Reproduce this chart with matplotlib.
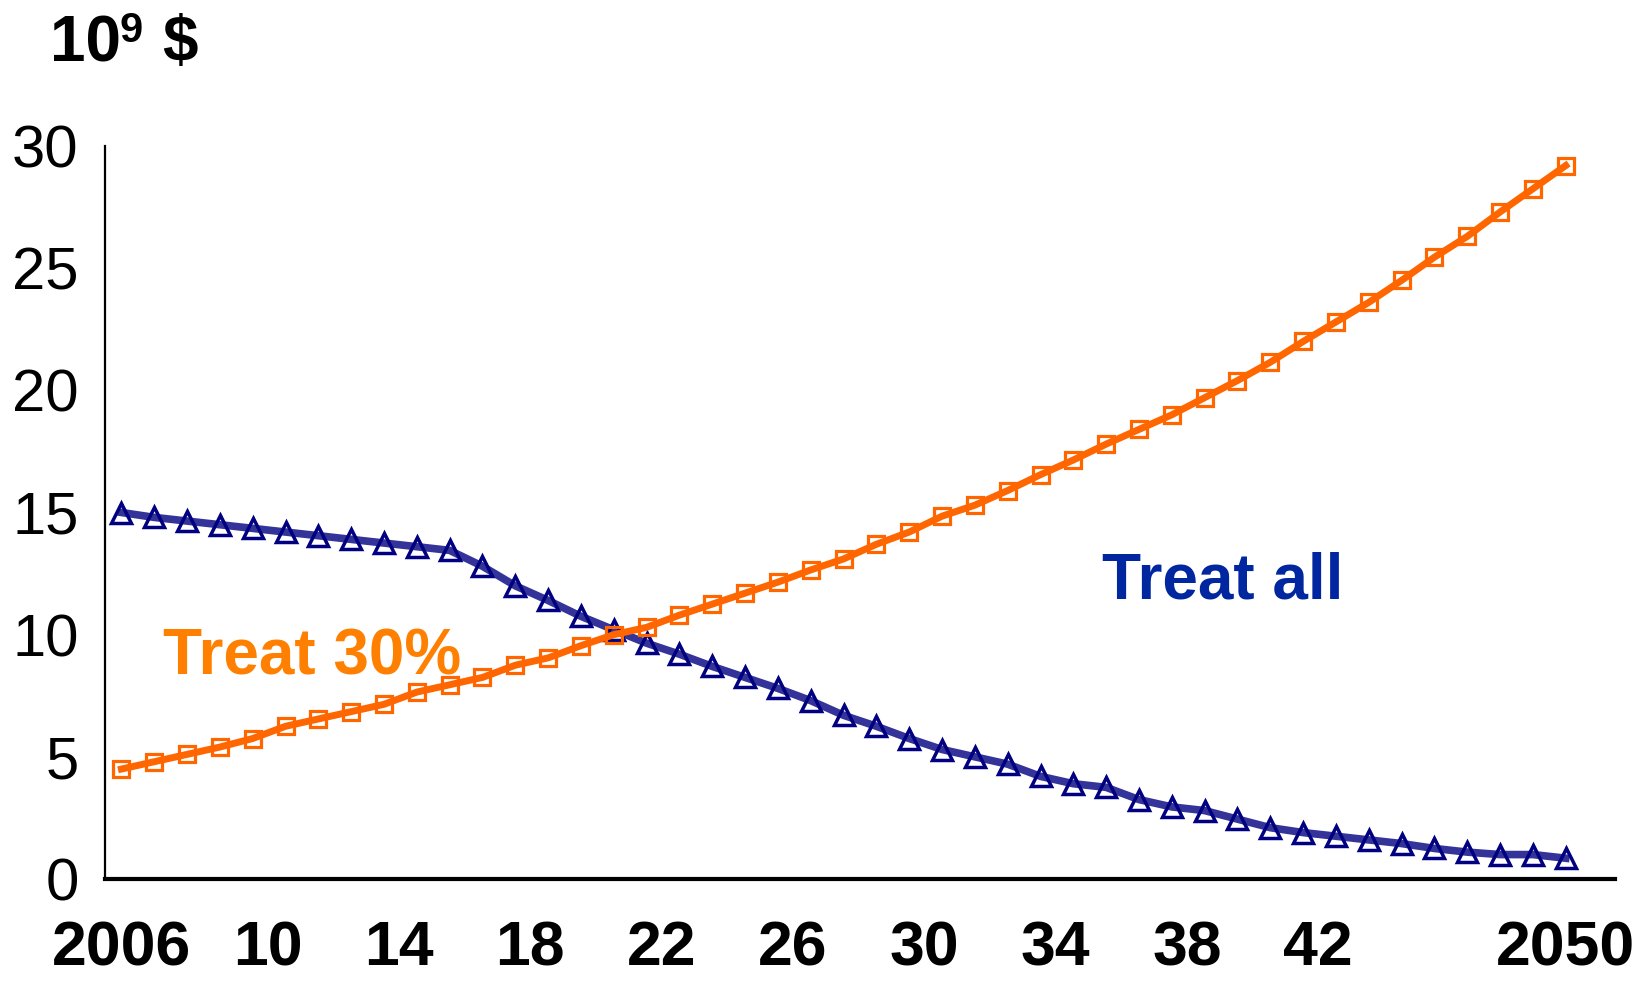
import matplotlib
matplotlib.use("Agg")
import matplotlib.pyplot as plt
import matplotlib.transforms as mtransforms

plt.rcParams['font.family'] = ['Liberation Sans', 'DejaVu Sans']

# Annual cost projections, billions of dollars
years = list(range(2006, 2051))
treat_30 = [4.5, 4.8, 5.1, 5.4, 5.75, 6.25, 6.55, 6.85, 7.15, 7.65,
            7.95, 8.25, 8.75, 9.05, 9.55, 10.0, 10.3, 10.8, 11.25, 11.7,
            12.15, 12.65, 13.1, 13.7, 14.2, 14.85, 15.3, 15.9, 16.55, 17.15,
            17.8, 18.4, 19.0, 19.7, 20.4, 21.15, 22.0, 22.8, 23.6, 24.5,
            25.45, 26.3, 27.3, 28.25, 29.2]
treat_all = [15.0, 14.8, 14.65, 14.5, 14.35, 14.2, 14.05, 13.9, 13.75, 13.6,
             13.45, 12.8, 12.0, 11.4, 10.75, 10.2, 9.65, 9.2, 8.7, 8.25,
             7.8, 7.3, 6.7, 6.25, 5.75, 5.3, 5.0, 4.7, 4.2, 3.9,
             3.75, 3.25, 2.95, 2.8, 2.45, 2.1, 1.9, 1.75, 1.6, 1.45,
             1.25, 1.1, 1.0, 1.0, 0.85]

x_ticks = [2006, 2010, 2014, 2018, 2022, 2026, 2030, 2034, 2038, 2042, 2050]
x_tick_labels = ['2006', '10', '14', '18', '22', '26', '30', '34', '38', '42', '2050']
y_ticks = [0, 5, 10, 15, 20, 25, 30]

W, H = 1650, 984
fig = plt.figure(figsize=(W / 100, H / 100), dpi=100)
ax = fig.add_axes([105 / W, 1 - 879 / H, (1615 - 105) / W, (879 - 146) / H])

ax.plot(years, treat_all, color='#333399', lw=5.5, marker='^', ms=15,
        mfc='none', mec='#000080', mew=2.5, zorder=3)
ax.plot(years, treat_30, color='#FF6600', lw=5.0, marker='s', ms=12,
        mfc='none', mec='#FF6600', mew=2.3, zorder=4)

ax.set_xlim(2005.5, 2051.5)
ax.set_ylim(0, 30)

ax.set_yticks(y_ticks)
ax.set_yticklabels([str(v) for v in y_ticks])
ax.set_xticks(x_ticks)
ax.set_xticklabels(x_tick_labels)

ax.tick_params(axis='y', length=0, pad=19, labelsize=43)
ax.tick_params(axis='x', length=0, pad=29, labelsize=45)
for lab in ax.get_xticklabels():
    lab.set_fontweight('bold')
    if len(lab.get_text()) == 2:
        lab.set_transform(lab.get_transform() +
                          mtransforms.ScaledTranslation(15 / 100, 0, fig.dpi_scale_trans))

for side in ('top', 'right'):
    ax.spines[side].set_visible(False)
ax.spines['left'].set_linewidth(1.6)
ax.spines['bottom'].set_linewidth(3.0)
ax.spines['left'].set_color('black')
ax.spines['bottom'].set_color('black')

# Series labels
ax.text(2007.28, 8.35, 'Treat 30%', color='#FF8000', fontsize=46,
        fontweight='bold', ha='left', va='baseline', zorder=5)
ax.text(2035.87, 11.46, 'Treat all', color='#0026A0', fontsize=46,
        fontweight='bold', ha='left', va='baseline', zorder=5)

# Unit label: 10^9 $
fig.text(50 / W, 1 - 61 / H, '10', fontsize=46, fontweight='bold',
         ha='left', va='baseline', color='black')
fig.text(119 / W, 1 - 42 / H, '9', fontsize=30, fontweight='bold',
         ha='left', va='baseline', color='black')
fig.text(162 / W, 1 - 61 / H, '$', fontsize=46, fontweight='bold',
         ha='left', va='baseline', color='black')

fig.savefig('out.png', dpi=100, facecolor='white')
